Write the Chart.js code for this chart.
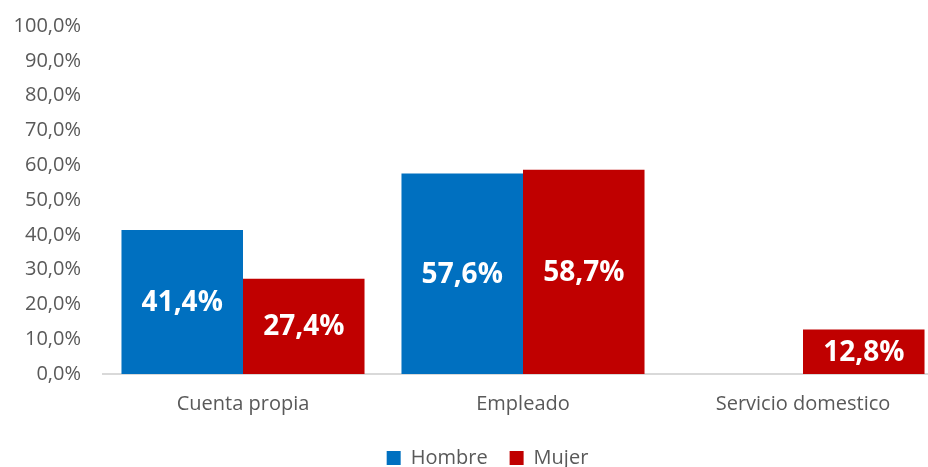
<!DOCTYPE html>
<html>
<head>
<meta charset="utf-8">
<script src="https://cdn.jsdelivr.net/npm/chart.js@4"></script>
<style>
  html, body { margin: 0; padding: 0; background: #fff; overflow: hidden; }
</style>
</head>
<body>
<canvas id="chart" width="975" height="478"></canvas>
<script>
// chart data
const categories = ["Cuenta propia", "Empleado", "Servicio domestico"];
const hombre = [41.4, 57.6, null];
const mujer = [27.4, 58.7, 12.8];
const yTicks = [0, 10, 20, 30, 40, 50, 60, 70, 80, 90, 100];

const fmt = v => v.toFixed(1).replace('.', ',') + '%';

// draw white value labels in the middle of each bar
const barLabels = {
  id: 'barLabels',
  afterDatasetsDraw(chart) {
    const ctx = chart.ctx;
    ctx.save();
    ctx.fillStyle = '#ffffff';
    ctx.font = 'bold 28px "Open Sans"';
    ctx.textAlign = 'center';
    ctx.textBaseline = 'middle';
    chart.data.datasets.forEach((ds, i) => {
      chart.getDatasetMeta(i).data.forEach((bar, j) => {
        const v = ds.data[j];
        if (v == null) return;
        const mid = (bar.y + bar.base) / 2;
        ctx.fillText(fmt(v), bar.x, mid + 1);
      });
    });
    ctx.restore();
  }
};

// nudge the legend so it is centred on the whole canvas, not the padded box
const shiftLegend = {
  id: 'shiftLegend',
  afterLayout(chart) {
    const lg = chart.legend;
    if (!lg) return;
    lg.left += 16;
    lg.right += 16;
  }
};

new Chart(document.getElementById('chart'), {
  type: 'bar',
  data: {
    labels: categories,
    datasets: [
      { label: 'Hombre', data: hombre, backgroundColor: '#0070C0' },
      { label: 'Mujer', data: mujer, backgroundColor: '#C00000' }
    ]
  },
  options: {
    responsive: false,
    animation: false,
    devicePixelRatio: 1,
    categoryPercentage: 0.868,
    barPercentage: 1,
    layout: { padding: { top: 11, right: 32, left: 0, bottom: 0 } },
    plugins: {
      legend: {
        position: 'bottom',
        labels: {
          boxWidth: 14, boxHeight: 14, padding: 22,
          color: '#595959',
          font: { family: 'Open Sans', size: 20 }
        }
      },
      tooltip: { enabled: false }
    },
    scales: {
      x: {
        grid: { display: false },
        border: { display: true, color: '#d9d9d9', width: 2 },
        ticks: { color: '#595959', padding: 10, font: { family: 'Open Sans', size: 20 } }
      },
      y: {
        min: 0, max: 100,
        afterBuildTicks: axis => { axis.ticks = yTicks.map(v => ({ value: v })); },
        afterFit: axis => { axis.width = 103; },
        grid: { display: false },
        border: { display: false },
        ticks: {
          color: '#595959', padding: 14,
          font: { family: 'Open Sans', size: 20 },
          callback: v => fmt(v)
        }
      }
    }
  },
  plugins: [barLabels, shiftLegend]
});
</script>
</body>
</html>
